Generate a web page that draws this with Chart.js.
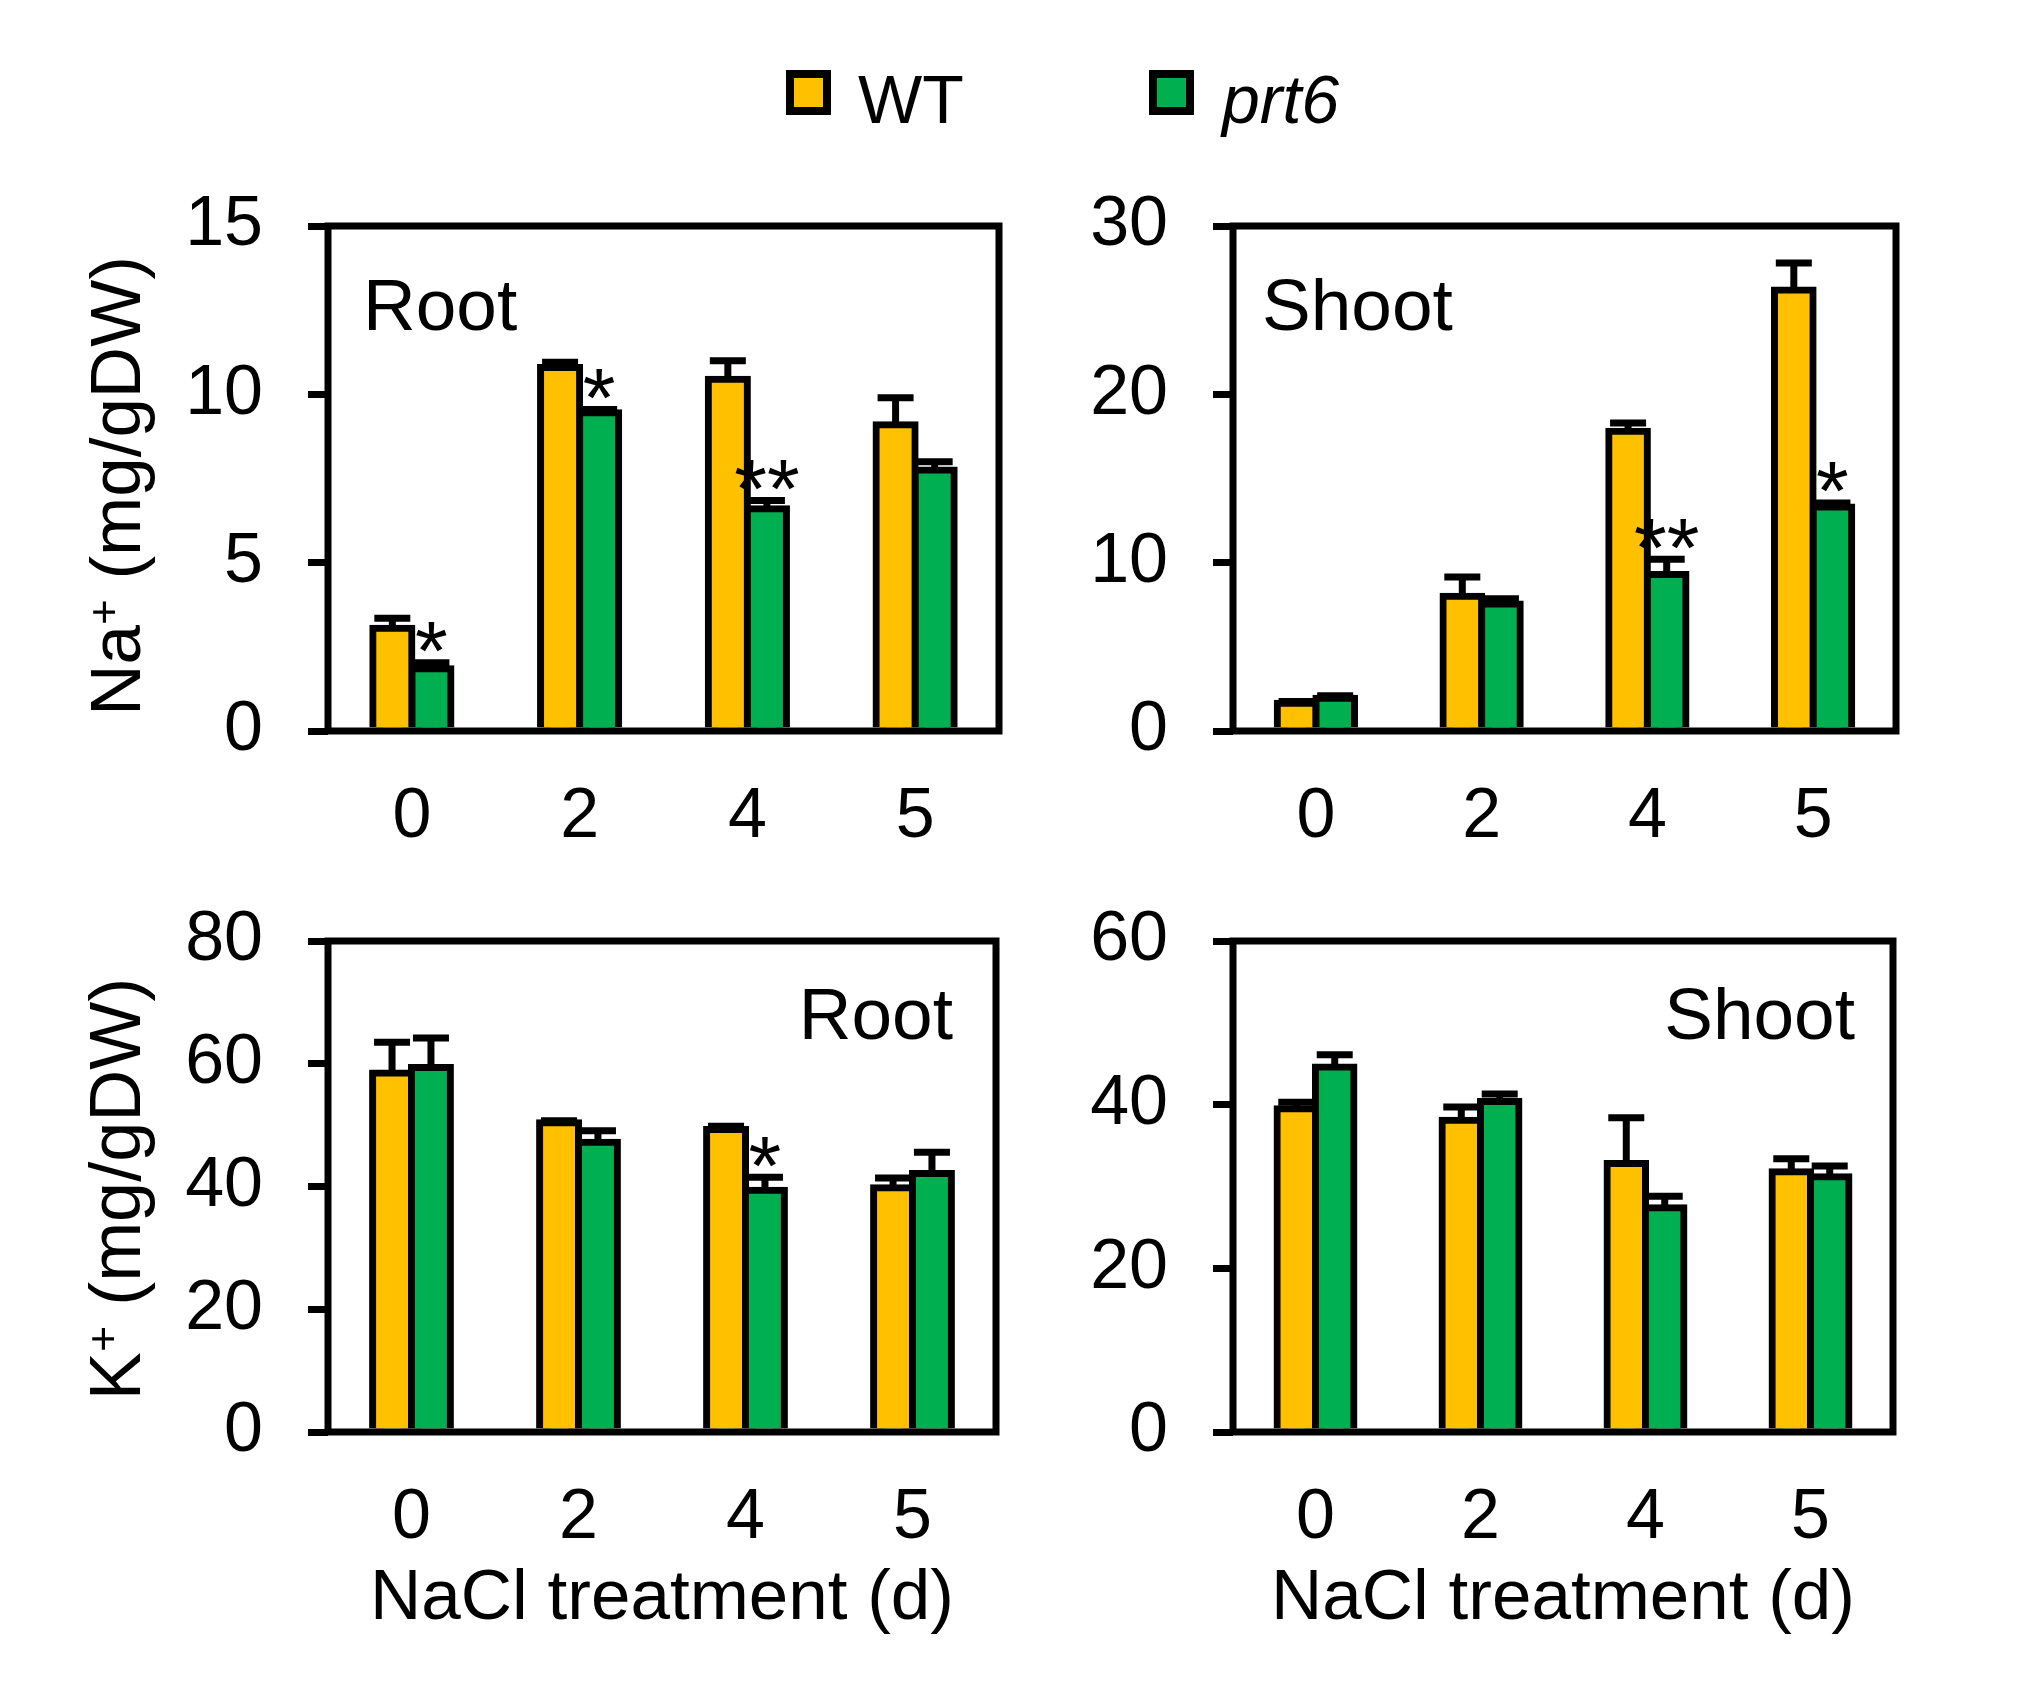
<!DOCTYPE html>
<html>
<head>
<meta charset="utf-8">
<title>Na+ / K+ content</title>
<script src="https://cdn.jsdelivr.net/npm/chart.js@4.4.0/dist/chart.umd.min.js"></script>
<style>
body{margin:0;background:#fff;}
#wrap{position:relative;width:2019px;height:1708px;background:#fff;overflow:hidden;font-family:'Liberation Sans',Arial,sans-serif;}
canvas{position:absolute;}
.legBox{position:absolute;box-sizing:border-box;border:8px solid #000;width:45px;height:45px;top:70px;}
.legTxt{position:absolute;font-size:68px;line-height:68px;color:#000;top:65px;white-space:nowrap;}
</style>
</head>
<body>
<div id="wrap">
  <div class="legBox" style="left:786px;background:#FFC000;"></div>
  <div class="legTxt" style="left:858px;">WT</div>
  <div class="legBox" style="left:1149px;background:#00B050;"></div>
  <div class="legTxt" style="left:1222px;font-style:italic;">prt6</div>

  <canvas id="naRoot" width="1040" height="760" style="left:0px;top:140px;"></canvas>
  <canvas id="naShoot" width="979" height="760" style="left:1040px;top:140px;"></canvas>
  <canvas id="kRoot" width="1040" height="808" style="left:0px;top:900px;"></canvas>
  <canvas id="kShoot" width="979" height="808" style="left:1040px;top:900px;"></canvas>
</div>
<script>
'use strict'

const FONT = "'Liberation Sans', Arial, sans-serif";
const YELLOW = '#FFC000';
const GREEN = '#00B050';
const LINE = 7;

//x축 (처리 일수)
const days = ['0', '2', '4', '5'];

//Na+ 뿌리
const naRootWT = [3.05, 10.8, 10.45, 9.1];
const naRootWTErr = [0.3, 0.15, 0.55, 0.8];
const naRootPrt6 = [1.85, 9.45, 6.6, 7.75];
const naRootPrt6Err = [0.18, 0.1, 0.25, 0.25];
const naRootSig = ['*', '*', '**', ''];

//Na+ 지상부
const naShootWT = [1.65, 8.0, 17.8, 26.2];
const naShootWTErr = [0.1, 1.15, 0.5, 1.6];
const naShootPrt6 = [1.95, 7.55, 9.3, 13.3];
const naShootPrt6Err = [0.15, 0.3, 0.9, 0.25];
const naShootSig = ['', '', '**', '*'];

//K+ 뿌리
const kRootWT = [58.5, 50.4, 49.3, 39.8];
const kRootWTErr = [5.0, 0.3, 0.5, 1.6];
const kRootPrt6 = [59.4, 47.2, 39.4, 42.1];
const kRootPrt6Err = [4.8, 1.9, 2.1, 3.5];
const kRootSig = ['', '', '*', ''];

//K+ 지상부
const kShootWT = [39.5, 38.1, 32.8, 31.8];
const kShootWTErr = [0.8, 1.6, 5.6, 1.6];
const kShootPrt6 = [44.6, 40.4, 27.4, 31.2];
const kShootPrt6Err = [1.5, 0.9, 1.4, 1.3];
const kShootSig = ['', '', '', ''];

//y축 범위
const naRootMax = 15, naRootStep = 5;
const naShootMax = 30, naShootStep = 10;
const kRootMax = 80, kRootStep = 20;
const kShootMax = 60, kShootStep = 20;

// =====================================================================================================

//테두리, 오차막대, 별표, 패널 글씨
const extrasPlugin = {
	id: 'extras',
	afterDatasetsDraw(chart, args, opts) {
		const ctx = chart.ctx;
		const area = chart.chartArea;
		const yScale = chart.scales.y;

		ctx.save();
		ctx.strokeStyle = '#000';
		ctx.fillStyle = '#000';
		ctx.lineWidth = LINE;
		ctx.strokeRect(area.left, area.top, area.right - area.left, area.bottom - area.top);

		chart.data.datasets.forEach((ds, di) => {
			const meta = chart.getDatasetMeta(di);
			meta.data.forEach((bar, i) => {
				const top = yScale.getPixelForValue(ds.data[i] + ds.errors[i]);
				ctx.beginPath();
				ctx.moveTo(bar.x, bar.y);
				ctx.lineTo(bar.x, top);
				ctx.moveTo(bar.x - 18, top);
				ctx.lineTo(bar.x + 18, top);
				ctx.stroke();

				if (ds.marks && ds.marks[i]) {
					ctx.font = '84px ' + FONT;
					ctx.textAlign = 'center';
					ctx.textBaseline = 'alphabetic';
					const m = ctx.measureText(ds.marks[i]);
					ctx.fillText(ds.marks[i], bar.x, top - LINE / 2 - 7 - m.actualBoundingBoxDescent);
				}
			});
		});

		//Root / Shoot
		ctx.font = '73px ' + FONT;
		ctx.textBaseline = 'alphabetic';
		ctx.textAlign = opts.labelAlign;
		ctx.fillText(opts.label, opts.labelX, opts.labelY);

		//y축 제목
		if (opts.yTitle) {
			const t = opts.yTitle;
			ctx.translate(t.x, t.y);
			ctx.rotate(-Math.PI / 2);
			ctx.textAlign = 'left';
			const big = t.size + 'px ' + FONT;
			const small = Math.round(t.size * 0.62) + 'px ' + FONT;
			ctx.font = big;
			const w1 = ctx.measureText(t.base).width;
			const w3 = ctx.measureText(t.rest).width;
			ctx.font = small;
			const w2 = ctx.measureText('+').width;
			let x = -(w1 + w2 + w3) / 2;
			ctx.font = big;
			ctx.fillText(t.base, x, 0);
			x += w1;
			ctx.font = small;
			ctx.fillText('+', x, -t.size * 0.3);
			x += w2;
			ctx.font = big;
			ctx.fillText(t.rest, x, 0);
			ctx.setTransform(1, 0, 0, 1, 0, 0);
		}

		//x축 제목
		if (opts.xTitle) {
			ctx.font = '71px ' + FONT;
			ctx.textAlign = 'center';
			ctx.fillText(opts.xTitle, (area.left + area.right) / 2, opts.xTitleY);
		}
		ctx.restore();
	}
};

//축 여백 고정
function noPad(scale) {
	scale.paddingTop = 0;
	scale.paddingBottom = 0;
	scale.paddingLeft = 0;
	scale.paddingRight = 0;
}

function makePanel(id, wt, wtErr, prt6, prt6Err, sig, yMax, yStep, box, extras) {
	return new Chart(document.getElementById(id), {
		type: 'bar',
		data: {
			labels: days,
			datasets: [{
				label: 'WT',
				data: wt,
				errors: wtErr,
				backgroundColor: YELLOW,
				borderColor: '#000',
				borderWidth: LINE,
				inflateAmount: LINE / 2,
				borderSkipped: 'start'
			}, {
				label: 'prt6',
				data: prt6,
				errors: prt6Err,
				marks: sig,
				backgroundColor: GREEN,
				borderColor: '#000',
				borderWidth: LINE,
				inflateAmount: LINE / 2,
				borderSkipped: 'start'
			}]
		},
		options: {
			responsive: false,
			animation: false,
			devicePixelRatio: 1,
			categoryPercentage: 0.466,
			barPercentage: 1,
			layout: {
				padding: { left: 0, top: box.padTop, right: box.padRight, bottom: 0 }
			},
			plugins: {
				legend: { display: false },
				tooltip: { enabled: false },
				extras: extras
			},
			scales: {
				x: {
					type: 'category',
					offset: true,
					grid: { display: false, drawTicks: false },
					border: { display: false },
					ticks: {
						color: '#000',
						font: { family: FONT, size: 70 },
						padding: 45,
						maxRotation: 0
					},
					afterFit: (scale) => { scale.height = box.xHeight; noPad(scale); }
				},
				y: {
					min: 0,
					max: yMax,
					ticks: {
						stepSize: yStep,
						color: '#000',
						font: { family: FONT, size: 70 },
						padding: 45
					},
					grid: {
						drawOnChartArea: false,
						drawTicks: true,
						tickLength: 20,
						color: '#000',
						lineWidth: LINE
					},
					border: { display: false },
					afterFit: (scale) => { scale.width = box.yWidth; noPad(scale); }
				}
			}
		},
		plugins: [extrasPlugin]
	});
}

// =====================================================================================================

makePanel('naRoot', naRootWT, naRootWTErr, naRootPrt6, naRootPrt6Err, naRootSig, naRootMax, naRootStep,
	{ padTop: 86, padRight: 41, xHeight: 169, yWidth: 328 },
	{ label: 'Root', labelAlign: 'left', labelX: 363, labelY: 190,
	  yTitle: { base: 'Na', rest: ' (mg/gDW)', x: 140, y: 346, size: 71 } });

makePanel('naShoot', naShootWT, naShootWTErr, naShootPrt6, naShootPrt6Err, naShootSig, naShootMax, naShootStep,
	{ padTop: 86, padRight: 123, xHeight: 169, yWidth: 193 },
	{ label: 'Shoot', labelAlign: 'left', labelX: 222, labelY: 190 });

makePanel('kRoot', kRootWT, kRootWTErr, kRootPrt6, kRootPrt6Err, kRootSig, kRootMax, kRootStep,
	{ padTop: 41, padRight: 44, xHeight: 276, yWidth: 328 },
	{ label: 'Root', labelAlign: 'right', labelX: 953, labelY: 139,
	  yTitle: { base: 'K', rest: ' (mg/gDW)', x: 140, y: 289, size: 72 },
	  xTitle: 'NaCl treatment (d)', xTitleY: 719 });

makePanel('kShoot', kShootWT, kShootWTErr, kShootPrt6, kShootPrt6Err, kShootSig, kShootMax, kShootStep,
	{ padTop: 41, padRight: 126, xHeight: 276, yWidth: 193 },
	{ label: 'Shoot', labelAlign: 'right', labelX: 815, labelY: 139,
	  xTitle: 'NaCl treatment (d)', xTitleY: 719 });
</script>
</body>
</html>
